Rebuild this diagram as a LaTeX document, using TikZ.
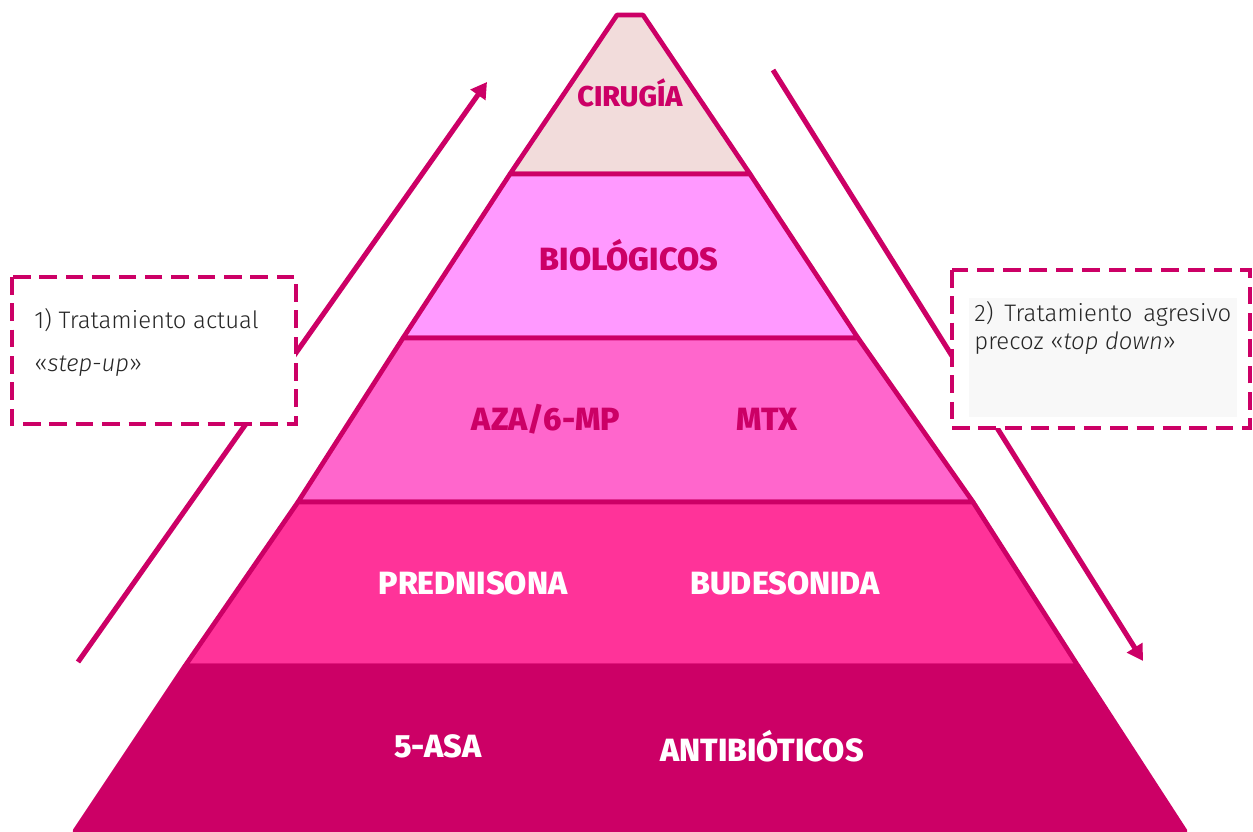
\documentclass[tikz,border=0pt]{standalone}
\usepackage{fontspec}
\setmainfont{Fira Sans}
\newfontfamily\lightfont{Fira Sans Light}
\newfontfamily\heavyfont{Fira Sans ExtraBold}
\usetikzlibrary{arrows.meta, positioning}

\definecolor{deeppink}{HTML}{CC0066}
\definecolor{tierA}{HTML}{F2DCDB}
\definecolor{tierB}{HTML}{FF99FF}
\definecolor{tierC}{HTML}{FF66CC}
\definecolor{tierD}{HTML}{FF3399}
\definecolor{tierE}{HTML}{CC0066}
\definecolor{boxgray}{HTML}{F8F8F8}
\definecolor{inkgray}{HTML}{262626}

\begin{document}
\begin{tikzpicture}[x=0.02cm, y=-0.02cm,
  tier/.style={draw=deeppink, line width=2.7pt, line join=round},
  tierlabel/.style={font=\heavyfont\fontsize{18.3}{21}\selectfont, text=deeppink},
  whitelabel/.style={tierlabel, text=white},
  dashbox/.style={draw=deeppink, line width=2.2pt, dash pattern=on 10pt off 5pt, fill=white},
  boxtext/.style={font=\lightfont\fontsize{13.6}{24.5}\selectfont, text=inkgray, inner sep=0pt},
  flow/.style={deeppink, line width=2.9pt, -{Triangle[length=9pt, width=10pt]}}]

\useasboundingbox (0,0) rectangle (1253,831);

% Flow arrows (behind the boxes)
\coordinate (upStart) at (78,662);
\coordinate (upEnd) at (487,82);
\coordinate (downStart) at (773,70);
\coordinate (downEnd) at (1143,661);
\draw[flow] (upStart) -- (upEnd);
\draw[flow] (downStart) -- (downEnd);

% Pyramid tiers, top to bottom
\filldraw[tier, fill=tierA] (617,15) -- (643,15) -- (750,174) -- (510,174) -- cycle;
\filldraw[tier, fill=tierB] (510,174) -- (750,174) -- (858,338) -- (403,338) -- cycle;
\filldraw[tier, fill=tierC] (403,338) -- (858,338) -- (973,502) -- (298,502) -- cycle;
\filldraw[tier, fill=tierD] (298,502) -- (973,502) -- (1078,666) -- (185,666) -- cycle;
\filldraw[tier, fill=tierE, draw=tierE] (185,666) -- (1078,666) -- (1185,831) -- (75,831) -- cycle;

% Tier labels
\node[tierlabel, font=\heavyfont\fontsize{16.3}{19}\selectfont] (cirugia) at (630,93) {CIRUGÍA};
\node[tierlabel] (biologicos) at (629,255) {BIOLÓGICOS};
\node[tierlabel] (aza) at (546,419) {AZA/6-MP};
\node[tierlabel] (mtx) at (767,419) {MTX};
\node[whitelabel] (prednisona) at (473,583) {PREDNISONA};
\node[whitelabel] (budesonida) at (785,583) {BUDESONIDA};
\node[whitelabel] (asa) at (438,746) {5-ASA};
\node[whitelabel] (antibioticos) at (762,746) {ANTIBIÓTICOS};

% Left box: step-up
\draw[dashbox] (12,277) rectangle (296,424);
\node[boxtext, anchor=west, align=left] (stepText) at (34,342)
  {1) Tratamiento actual\\«\textit{step-up}»};

% Right box: top down
\draw[dashbox] (952,270) rectangle (1250,428);
\fill[boxgray] (969,298) rectangle (1237,417);
\node[boxtext, anchor=north west, text width=5.14cm, align=justify,
  font=\lightfont\fontsize{13.6}{16}\selectfont] (topText) at (974,301)
  {2) Tratamiento agresivo precoz «\textit{top down}»};

\end{tikzpicture}
\end{document}
